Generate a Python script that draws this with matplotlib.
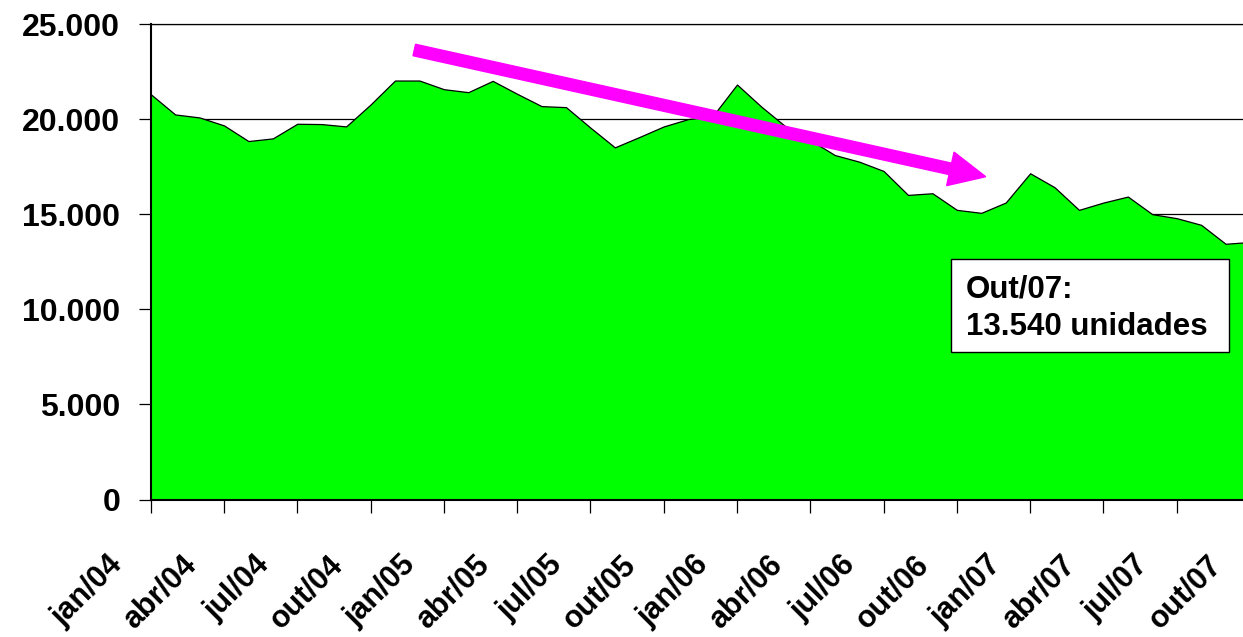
import matplotlib
matplotlib.use("Agg")
import matplotlib.pyplot as plt
import matplotlib.transforms as mtransforms
from matplotlib.patches import FancyArrow, Rectangle

# monthly units, jan/04 .. out/07
months = ['jan/04', 'fev/04', 'mar/04', 'abr/04', 'mai/04', 'jun/04', 'jul/04', 'ago/04', 'set/04', 'out/04', 'nov/04', 'dez/04',
          'jan/05', 'fev/05', 'mar/05', 'abr/05', 'mai/05', 'jun/05', 'jul/05', 'ago/05', 'set/05', 'out/05', 'nov/05', 'dez/05',
          'jan/06', 'fev/06', 'mar/06', 'abr/06', 'mai/06', 'jun/06', 'jul/06', 'ago/06', 'set/06', 'out/06', 'nov/06', 'dez/06',
          'jan/07', 'fev/07', 'mar/07', 'abr/07', 'mai/07', 'jun/07', 'jul/07', 'ago/07', 'set/07', 'out/07']
units = [21311, 20245, 20087, 19668, 18846, 18986, 19755, 19738, 19615, 20769, 22028, 22028,
         21573, 21416, 22010, 21330, 20682, 20629, 19550, 18514, 19056, 19615, 20000, 20150,
         21818, 20650, 19600, 18900, 18112, 17763, 17273, 16014, 16102, 15228, 15071, 15613,
         17151, 16417, 15228, 15613, 15927, 15001, 14791, 14441, 13445, 13540]
yticks = [0, 5000, 10000, 15000, 20000, 25000]
ytick_labels = ['0', '5.000', '10.000', '15.000', '20.000', '25.000']
note = 'Out/07:'
note2 = '13.540 unidades'

plt.rcParams['font.family'] = ['Liberation Sans', 'DejaVu Sans']
plt.rcParams['font.weight'] = 'bold'

W, H = 1243, 637
fig = plt.figure(figsize=(W / 100, H / 100), dpi=100)
ax = fig.add_axes([150.7 / W, (H - 499.5) / H, (1250.0 - 150.7) / W, (499.5 - 24) / H])

x = list(range(len(units)))
ax.fill_between(x, units, 0, facecolor='#00ff00', edgecolor='black', linewidth=0.9, zorder=2)

ax.set_xlim(0, len(units) - 1)
ax.set_ylim(0, 25000)
ax.set_yticks(yticks)
ax.set_yticklabels(ytick_labels)
ax.yaxis.grid(True, color='black', linewidth=0.9, zorder=0)
ax.set_axisbelow(True)

ax.set_xticks(x[::3])
ax.set_xticklabels(months[::3], rotation=45, ha='right')

ax.tick_params(axis='y', labelsize=23, length=9, width=0.9, pad=13)
ax.tick_params(axis='x', labelsize=22, length=9, width=0.9, pad=27)
for lab in ax.get_xticklabels():
    lab.set_transform(lab.get_transform() + mtransforms.ScaledTranslation(-0.22, 0, fig.dpi_scale_trans))

for s in ['left', 'bottom']:
    ax.spines[s].set_linewidth(1.5)
ax.spines['right'].set_visible(False)
ax.spines['top'].set_linewidth(0.9)

# magenta trend arrow, figure pixels
px = mtransforms.IdentityTransform()
arrow = FancyArrow(414.3, H - 50, 571.4, -126.7, width=11.7, head_width=34.3, head_length=36.2,
                   length_includes_head=True, color='#ff00ff', transform=px, zorder=5)
fig.add_artist(arrow)

# annotation box
box = Rectangle((951 / W, (H - 352) / H), 278 / W, 93 / H, transform=fig.transFigure,
                facecolor='white', edgecolor='black', linewidth=1, zorder=5)
fig.add_artist(box)
fig.text(966 / W, (H - 298) / H, note, fontsize=22.5, fontweight='bold', va='baseline', ha='left', zorder=6)
fig.text(966 / W, (H - 335) / H, note2, fontsize=22.5, fontweight='bold', va='baseline', ha='left', zorder=6)

fig.savefig('out.png', dpi=100)
